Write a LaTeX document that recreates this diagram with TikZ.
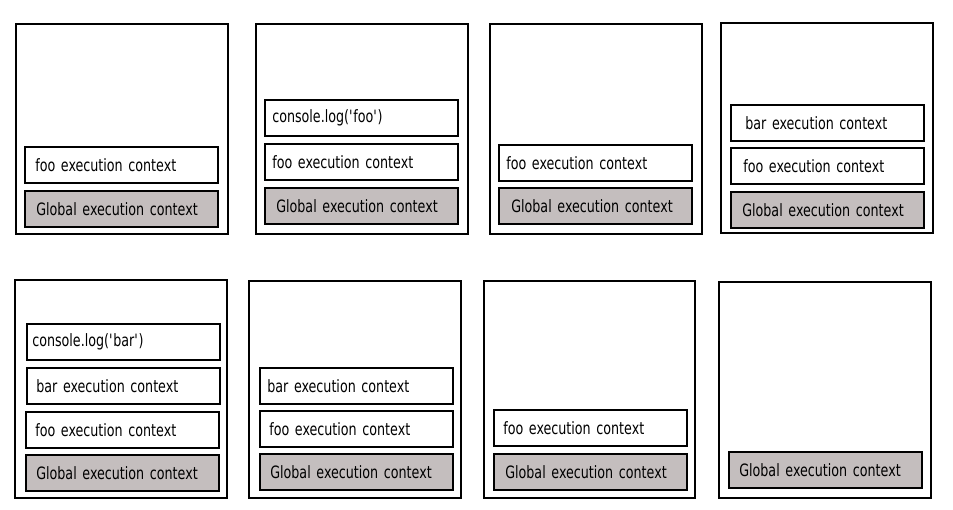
\documentclass[tikz,border=0pt]{standalone}
\usepackage{fontspec}
\setmainfont[FakeStretch=0.83]{DejaVu Sans Condensed}
\definecolor{gfill}{RGB}{196,190,190}
\def\ctxpad{7}
\begin{document}
\begin{tikzpicture}[x=1pt,y=-1pt,
  frame/.style={draw=black, line width=1.8pt, fill=white, anchor=north west, minimum width=212pt, minimum height=210pt, inner sep=0pt},
  pad/.store in=\ctxpad,
  ctx/.style={draw=black, line width=1.6pt, fill=white, anchor=north west, minimum height=36pt, inner xsep=3.5pt, inner ysep=0pt, text width=186pt, align=left, font=\fontsize{17}{19}\selectfont, pad=7, execute at begin node={\hspace*{\ctxpad pt}}},
  glob/.style={ctx, fill=gfill, pad=8}]
\useasboundingbox[fill=white] (0,0) rectangle (953,509);
% row 1
\node[frame] (f1) at (15,23) {};
\node[ctx] (f1foo) at (24,146) {foo execution context};
\node[glob] (f1g) at (24,190) {Global execution context};

\node[frame] (f2) at (255,23) {};
\node[ctx, pad=4] (f2log) at (264,99) {console.log(\textquotesingle foo\textquotesingle)};
\node[ctx, pad=4] (f2foo) at (264,143) {foo execution context};
\node[glob] (f2g) at (264,187) {Global execution context};

\node[frame] (f3) at (489,23) {};
\node[ctx, pad=4] (f3foo) at (498,144) {foo execution context};
\node[glob, pad=9] (f3g) at (498,187) {Global execution context};

\node[frame] (f4) at (720,22) {};
\node[ctx, pad=11] (f4bar) at (730,104) {bar execution context};
\node[ctx, pad=9] (f4foo) at (730,147) {foo execution context};
\node[glob] (f4g) at (730,191) {Global execution context};
% row 2
\node[frame, minimum height=218pt] (f5) at (14,279) {};
\node[ctx, pad=2] (f5log) at (26,323) {console.log(\textquotesingle bar\textquotesingle)};
\node[ctx, pad=6] (f5bar) at (26,367) {bar execution context};
\node[ctx, pad=6] (f5foo) at (25,411) {foo execution context};
\node[glob, pad=7] (f5g) at (25,454) {Global execution context};

\node[frame, minimum height=217pt] (f6) at (248,280) {};
\node[ctx, pad=4] (f6bar) at (259,367) {bar execution context};
\node[ctx, pad=6] (f6foo) at (259,410) {foo execution context};
\node[glob, pad=7] (f6g) at (259,453) {Global execution context};

\node[frame, minimum width=211pt, minimum height=217pt] (f7) at (483,280) {};
\node[ctx, pad=6] (f7foo) at (493,409) {foo execution context};
\node[glob] (f7g) at (493,453) {Global execution context};

\node[frame, minimum height=216pt] (f8) at (718,281) {};
\node[glob, pad=7] (f8g) at (728,451) {Global execution context};
\end{tikzpicture}
\end{document}
